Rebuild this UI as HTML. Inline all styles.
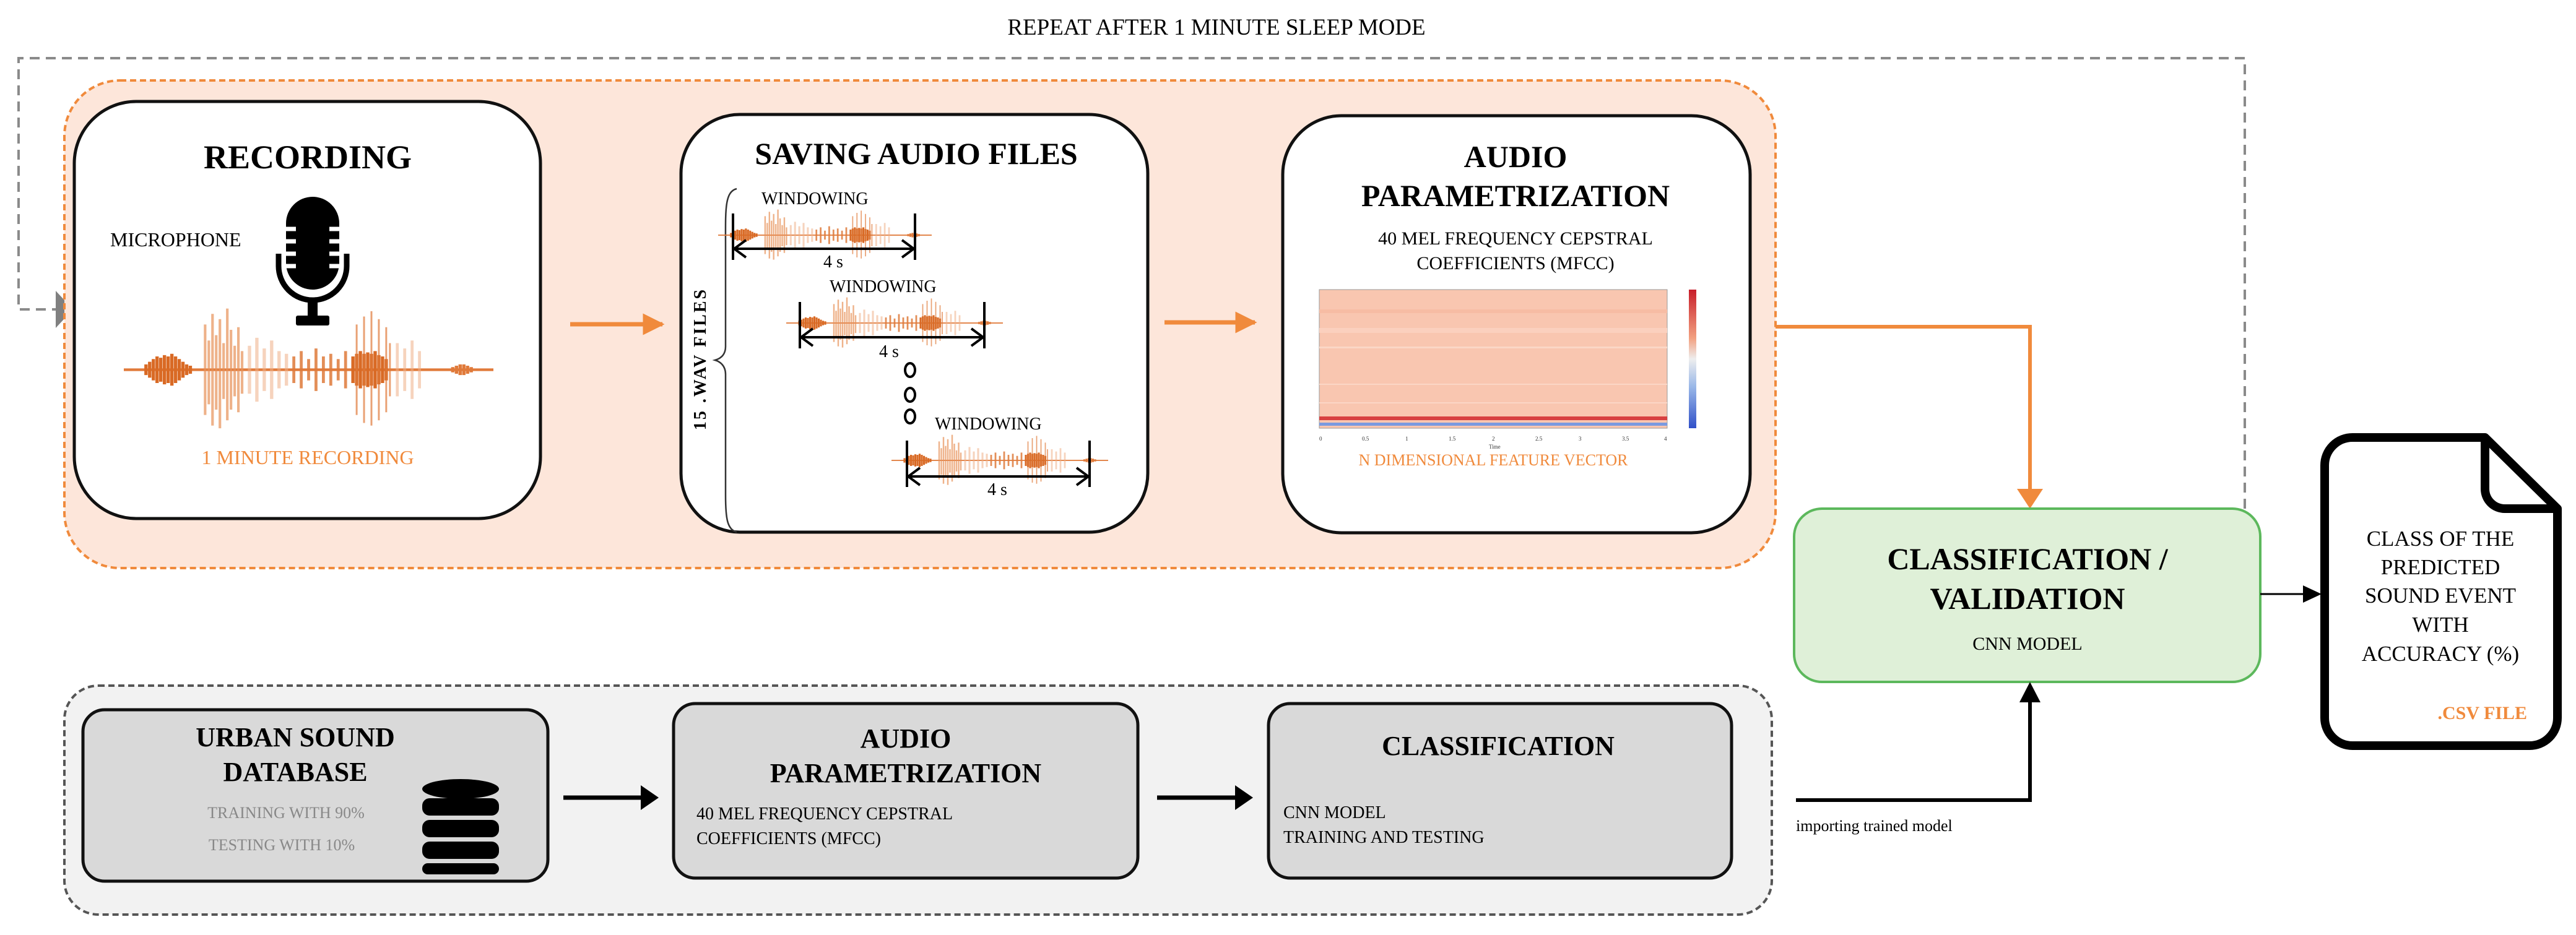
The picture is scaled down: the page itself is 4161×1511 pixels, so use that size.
<!DOCTYPE html>
<html><head><meta charset="utf-8"><style>
html,body{margin:0;padding:0;background:#fff}
svg{display:block}
text{font-family:"Liberation Serif",serif}
</style></head><body>
<svg width="4161" height="1511" viewBox="0 0 4161 1511" xmlns="http://www.w3.org/2000/svg">
<defs>
<symbol id="wave" viewBox="0 0 100 50" preserveAspectRatio="none">
<rect x="0" y="24.5" width="100" height="1" fill="#e07a3a"/>
<path d="M6 23V27M7 22V28M8 21V29M9 20V30M10 20.5V29.5M11 19.5V30.5M12 20V30M13 19V31M14 20V30M15 21V29M16 22V28M17 23V27M18 23.5V26.5" stroke="#d96a25" stroke-width="0.9"/>
<path d="M22 8V42M23 14V38M24 4V46M25 12V40M26 6V47M27 15V36M28 2V44M29 10V40M30 16V35M31 9V41M32 18V34" stroke="#e8925a" stroke-width="0.7" opacity="0.7"/>
<path d="M34 16V34M36 13V37M38 17V33M40 14V36M42 18V32M44 19V31" stroke="#f0b088" stroke-width="0.9" opacity="0.55"/>
<path d="M46 20V30M48 18V32M50 21V29M52 17V33M54 20V30M56 19V31M58 21V29M60 18V32" stroke="#df7b3c" stroke-width="0.8" opacity="0.85"/>
<path d="M62 20V30M63 19V31M64 18V32M65 19V31M66 18.5V31.5M67 19V31M68 18V32M69 19.5V30.5M70 20V30M71 21V29" stroke="#d96a25" stroke-width="0.9"/>
<path d="M63 8V42M65 5V45M67 3V46M69 6V44M71 9V41M72 15V35" stroke="#e07a3a" stroke-width="0.5" opacity="0.7"/>
<path d="M74 15V35M76 17V33M78 14V36M80 18V32" stroke="#f0b088" stroke-width="0.8" opacity="0.55"/>
<path d="M89 24V26M90 23.5V26.5M91 23V27M92 23V27M93 23.5V26.5M94 24V26" stroke="#e07a3a" stroke-width="0.9"/>
</symbol>
<marker id="ao" viewBox="0 0 10 10" refX="9" refY="5" markerWidth="5" markerHeight="5" orient="auto"><path d="M0 0L10 5L0 10z" fill="#f08a3c"/></marker>
<linearGradient id="cb" x1="0" y1="0" x2="0" y2="1"><stop offset="0" stop-color="#c81e2a"/><stop offset="0.35" stop-color="#f2a080"/><stop offset="0.5" stop-color="#eee"/><stop offset="0.7" stop-color="#9ab8e8"/><stop offset="1" stop-color="#3050c8"/></linearGradient>
</defs>

<text x="1965" y="56" font-size="37" text-anchor="middle">REPEAT AFTER 1 MINUTE SLEEP MODE</text>

<path d="M3626 822V94H30V500H100" fill="none" stroke="#8a8a8a" stroke-width="4" stroke-dasharray="16 10"/>
<path d="M90 470L118 500L90 530z" fill="#808080"/>

<rect x="104" y="130" width="2764" height="788" rx="90" fill="#fde6da" stroke="#f08a3c" stroke-width="4" stroke-dasharray="10 6"/>

<rect x="120" y="164" width="753" height="674" rx="100" fill="#fff" stroke="#111" stroke-width="5"/>
<text x="497" y="272" font-size="54" font-weight="bold" text-anchor="middle">RECORDING</text>
<text x="178" y="398" font-size="32">MICROPHONE</text>
<rect x="462" y="318" width="86" height="150" rx="43" fill="#000"/>
<path d="M458 370h20M458 390h20M458 410h20M458 430h20M532 370h20M532 390h20M532 410h20M532 430h20" stroke="#fff" stroke-width="7"/>
<path d="M450 410V430a55 55 0 0 0 110 0V410" fill="none" stroke="#000" stroke-width="9"/>
<rect x="497" y="485" width="16" height="30" fill="#000"/>
<rect x="478" y="510" width="54" height="16" rx="3" fill="#000"/>
<use href="#wave" x="200" y="490" width="597" height="215"/>
<text x="497" y="750" font-size="32" fill="#f08a3c" text-anchor="middle">1 MINUTE RECORDING</text>

<line x1="921" y1="524" x2="1070" y2="524" stroke="#f08a3c" stroke-width="7" marker-end="url(#ao)"/>

<rect x="1100" y="185" width="754" height="675" rx="95" fill="#fff" stroke="#111" stroke-width="5"/>
<text x="1480" y="265" font-size="50" font-weight="bold" text-anchor="middle">SAVING AUDIO FILES</text>
<path d="M1190 305C1170 310 1172 340 1172 400V560C1172 575 1162 580 1155 582C1162 584 1172 590 1172 605V800C1172 840 1175 855 1190 860" fill="none" stroke="#333" stroke-width="2.5"/>
<text transform="translate(1140 580) rotate(-90)" font-size="28" font-weight="bold" text-anchor="middle" letter-spacing="3">15 .WAV FILES</text>
<g>
<text x="1230" y="330" font-size="28">WINDOWING</text>
<use href="#wave" x="1160" y="335" width="345" height="90"/>
<path d="M1184 345V420M1478 345V420M1186 402H1476M1205 388L1186 402L1205 416M1457 388L1476 402L1457 416" fill="none" stroke="#000" stroke-width="4"/>
<text x="1330" y="432" font-size="28">4 s</text>
<text x="1340" y="472" font-size="28">WINDOWING</text>
<use href="#wave" x="1270" y="477" width="350" height="90"/>
<path d="M1292 488V563M1590 488V563M1294 545H1588M1313 531L1294 545L1313 559M1569 531L1588 545L1569 559" fill="none" stroke="#000" stroke-width="4"/>
<text x="1420" y="577" font-size="28">4 s</text>
<ellipse cx="1470" cy="598" rx="8" ry="11" fill="none" stroke="#000" stroke-width="4"/>
<ellipse cx="1470" cy="638" rx="8" ry="11" fill="none" stroke="#000" stroke-width="4"/>
<ellipse cx="1470" cy="673" rx="8" ry="11" fill="none" stroke="#000" stroke-width="4"/>
<text x="1510" y="694" font-size="28">WINDOWING</text>
<use href="#wave" x="1440" y="699" width="350" height="90"/>
<path d="M1465 712V787M1760 712V787M1467 770H1758M1486 756L1467 770L1486 784M1739 756L1758 770L1739 784" fill="none" stroke="#000" stroke-width="4"/>
<text x="1595" y="800" font-size="28">4 s</text>
</g>

<line x1="1881" y1="521" x2="2027" y2="521" stroke="#f08a3c" stroke-width="7" marker-end="url(#ao)"/>

<rect x="2072" y="187" width="755" height="674" rx="95" fill="#fff" stroke="#111" stroke-width="5"/>
<text x="2448" y="270" font-size="50" font-weight="bold" text-anchor="middle">AUDIO</text>
<text x="2448" y="333" font-size="50" font-weight="bold" text-anchor="middle">PARAMETRIZATION</text>
<text x="2448" y="395" font-size="30" text-anchor="middle">40 MEL FREQUENCY CEPSTRAL</text>
<text x="2448" y="435" font-size="30" text-anchor="middle">COEFFICIENTS (MFCC)</text>
<rect x="2131" y="468" width="562" height="224" fill="#f9c6b0" stroke="#999" stroke-width="1"/>
<rect x="2131" y="500" width="562" height="6" fill="#f7bca4"/>
<rect x="2131" y="530" width="562" height="8" fill="#fbd0be"/>
<rect x="2131" y="560" width="562" height="3" fill="#fbd6c6"/>
<rect x="2131" y="620" width="562" height="2" fill="#fbd6c6"/>
<rect x="2131" y="650" width="562" height="2" fill="#fbd6c6"/>
<rect x="2131" y="673" width="562" height="6" fill="#d84040"/>
<rect x="2131" y="683" width="562" height="5" fill="#7a9ae0"/>
<rect x="2728" y="468" width="12" height="224" fill="url(#cb)"/>
<g font-size="9" fill="#333"><text x="2131" y="712">0</text><text x="2200" y="712">0.5</text><text x="2270" y="712">1</text><text x="2340" y="712">1.5</text><text x="2410" y="712">2</text><text x="2480" y="712">2.5</text><text x="2550" y="712">3</text><text x="2620" y="712">3.5</text><text x="2688" y="712">4</text><text x="2405" y="725">Time</text></g>
<text x="2412" y="752" font-size="26" fill="#f08a3c" text-anchor="middle">N DIMENSIONAL   FEATURE VECTOR</text>

<path d="M2868 528H3279V800" fill="none" stroke="#f08a3c" stroke-width="6"/>
<path d="M3258 790L3279 822L3300 790z" fill="#f08a3c"/>

<rect x="2898" y="822" width="753" height="280" rx="45" fill="#dff0d8" stroke="#5cb85c" stroke-width="4"/>
<text x="3275" y="920" font-size="50" font-weight="bold" text-anchor="middle">CLASSIFICATION /</text>
<text x="3275" y="984" font-size="50" font-weight="bold" text-anchor="middle">VALIDATION</text>
<text x="3275" y="1050" font-size="30" text-anchor="middle">CNN MODEL</text>

<line x1="3651" y1="960" x2="3725" y2="960" stroke="#000" stroke-width="3"/>
<path d="M3720 946L3750 960L3720 974z" fill="#000"/>

<path d="M3800 707H4014L4131 822V1160a45 45 0 0 1 -45 45H3800a45 45 0 0 1 -45 -45V752a45 45 0 0 1 45 -45z" fill="#fff" stroke="#000" stroke-width="14" stroke-linejoin="round"/>
<path d="M4014 707V790a32 32 0 0 0 32 32H4131" fill="none" stroke="#000" stroke-width="14" stroke-linejoin="round"/>
<g font-size="35" text-anchor="middle"><text x="3942" y="882">CLASS OF THE</text><text x="3942" y="928">PREDICTED</text><text x="3942" y="974">SOUND EVENT</text><text x="3942" y="1021">WITH</text><text x="3942" y="1068">ACCURACY (%)</text></g>
<text x="4082" y="1162" font-size="30" font-weight="bold" fill="#f08a3c" text-anchor="end">.CSV FILE</text>

<rect x="104" y="1108" width="2758" height="370" rx="55" fill="#f2f2f2" stroke="#555" stroke-width="4" stroke-dasharray="10 6"/>
<rect x="134" y="1147" width="751" height="277" rx="35" fill="#d9d9d9" stroke="#111" stroke-width="5"/>
<text x="477" y="1206" font-size="44" font-weight="bold" text-anchor="middle">URBAN SOUND</text>
<text x="477" y="1262" font-size="44" font-weight="bold" text-anchor="middle">DATABASE</text>
<text x="462" y="1322" font-size="26" fill="#888" text-anchor="middle">TRAINING WITH 90%</text>
<text x="455" y="1374" font-size="26" fill="#888" text-anchor="middle">TESTING WITH 10%</text>
<g fill="#000"><ellipse cx="744" cy="1275" rx="62" ry="16"/><rect x="682" y="1290" width="124" height="28" rx="12"/><rect x="682" y="1325" width="124" height="28" rx="12"/><rect x="682" y="1360" width="124" height="28" rx="12"/><rect x="682" y="1395" width="124" height="18" rx="9"/></g>

<line x1="910" y1="1289" x2="1040" y2="1289" stroke="#000" stroke-width="7"/>
<path d="M1035 1269L1064 1289L1035 1309z" fill="#000"/>

<rect x="1088" y="1137" width="750" height="282" rx="35" fill="#d9d9d9" stroke="#111" stroke-width="5"/>
<text x="1463" y="1208" font-size="44" font-weight="bold" text-anchor="middle">AUDIO</text>
<text x="1463" y="1264" font-size="44" font-weight="bold" text-anchor="middle">PARAMETRIZATION</text>
<text x="1125" y="1324" font-size="28">40 MEL FREQUENCY CEPSTRAL</text>
<text x="1125" y="1364" font-size="28">COEFFICIENTS (MFCC)</text>

<line x1="1869" y1="1289" x2="2000" y2="1289" stroke="#000" stroke-width="7"/>
<path d="M1995 1269L2024 1289L1995 1309z" fill="#000"/>

<rect x="2049" y="1137" width="748" height="282" rx="35" fill="#d9d9d9" stroke="#111" stroke-width="5"/>
<text x="2420" y="1220" font-size="44" font-weight="bold" text-anchor="middle">CLASSIFICATION</text>
<text x="2073" y="1322" font-size="28">CNN MODEL</text>
<text x="2073" y="1362" font-size="28">TRAINING AND TESTING</text>

<path d="M2901 1293H3279V1130" fill="none" stroke="#000" stroke-width="6"/>
<path d="M3262 1135L3279 1102L3296 1135z" fill="#000"/>
<text x="2901" y="1343" font-size="26">importing trained model</text>
</svg>
</body></html>
